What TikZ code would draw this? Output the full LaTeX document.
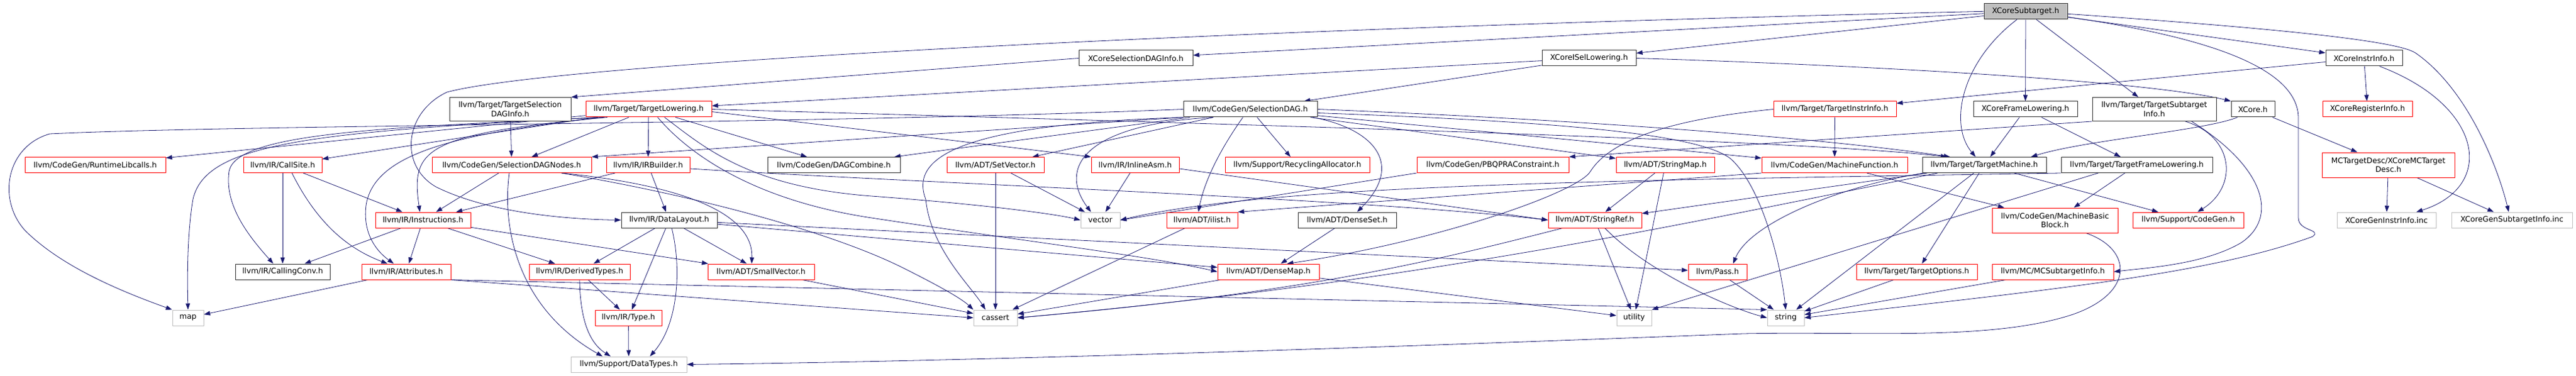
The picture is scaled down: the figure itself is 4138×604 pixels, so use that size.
\documentclass[tikz,border=0pt]{standalone}
\usepackage{fontspec}
\setmainfont{DejaVu Sans}
\usetikzlibrary{arrows.meta,backgrounds}
\definecolor{depblue}{HTML}{191970}
\definecolor{sysgray}{HTML}{BFBFBF}
\begin{document}
\begin{tikzpicture}[x=1pt,y=-1pt,>={Triangle[length=10pt,width=7pt]},
	box/.style={fill=white,minimum height=25pt,inner sep=0pt,align=center,font=\fontsize{12.2}{14.6}\selectfont},
	hdr/.style={box,draw=black!80,line width=1pt},
	trunc/.style={box,draw=red,line width=1pt},
	sys/.style={box,draw=sysgray,line width=1pt},
	dep/.style={->,depblue,line width=0.8pt}]
	\useasboundingbox (0,0) rectangle (4138,604);
	\node[hdr,fill=sysgray,minimum width=134pt] (sub) at (3254,18.3) {XCoreSubtarget.h};
	\node[hdr,minimum width=183pt] (xsdi) at (1824.5,93.5) {XCoreSelectionDAGInfo.h};
	\node[hdr,minimum width=151pt] (xisel) at (2552.5,93.5) {XCoreISelLowering.h};
	\node[hdr,minimum width=123pt] (xii) at (3797.5,93.5) {XCoreInstrInfo.h};
	\node[hdr,minimum width=195pt,minimum height=38pt] (tsdi) at (819.5,175.5) {llvm/Target/TargetSelection\\DAGInfo.h};
	\node[trunc,minimum width=202pt] (tl) at (1042,175.5) {llvm/Target/TargetLowering.h};
	\node[hdr,minimum width=215pt] (sdag) at (2008.5,175.5) {llvm/CodeGen/SelectionDAG.h};
	\node[trunc,minimum width=197pt] (tii) at (2947.5,175.5) {llvm/Target/TargetInstrInfo.h};
	\node[hdr,minimum width=167pt] (xfl) at (3253.5,175.5) {XCoreFrameLowering.h};
	\node[hdr,minimum width=199pt,minimum height=38pt] (tsi) at (3460.5,175.5) {llvm/Target/TargetSubtarget\\Info.h};
	\node[hdr,minimum width=70pt] (xcore) at (3619,175.5) {XCore.h};
	\node[trunc,minimum width=144pt] (xri) at (3803,175.5) {XCoreRegisterInfo.h};
	\node[trunc,minimum width=226pt] (rtl) at (153,265) {llvm/CodeGen/RuntimeLibcalls.h};
	\node[trunc,minimum width=126pt] (cs) at (454,265) {llvm/IR/CallSite.h};
	\node[trunc,minimum width=256pt] (sdn) at (822,265) {llvm/CodeGen/SelectionDAGNodes.h};
	\node[trunc,minimum width=134pt] (irb) at (1041,265) {llvm/IR/IRBuilder.h};
	\node[hdr,minimum width=213pt] (dagc) at (1339.5,265) {llvm/CodeGen/DAGCombine.h};
	\node[trunc,minimum width=156pt] (sv) at (1599,265) {llvm/ADT/SetVector.h};
	\node[trunc,minimum width=141pt] (ia) at (1823.5,265) {llvm/IR/InlineAsm.h};
	\node[trunc,minimum width=232pt] (ra) at (2084,265) {llvm/Support/RecyclingAllocator.h};
	\node[trunc,minimum width=244pt] (pbqp) at (2398,265) {llvm/CodeGen/PBQPRAConstraint.h};
	\node[trunc,minimum width=158pt] (smap) at (2675,265) {llvm/ADT/StringMap.h};
	\node[trunc,minimum width=234pt] (mf) at (2947,265) {llvm/CodeGen/MachineFunction.h};
	\node[hdr,minimum width=199pt] (tm) at (3187.5,265) {llvm/Target/TargetMachine.h};
	\node[hdr,minimum width=243pt] (tfl) at (3432.5,265) {llvm/Target/TargetFrameLowering.h};
	\node[trunc,minimum width=213pt,minimum height=40pt] (mctd) at (3836.5,265) {MCTargetDesc/XCoreMCTarget\\Desc.h};
	\node[trunc,minimum width=153pt] (inst) at (679.5,353.5) {llvm/IR/Instructions.h};
	\node[hdr,minimum width=154pt] (dl) at (1075,353.5) {llvm/IR/DataLayout.h};
	\node[sys,minimum width=63pt] (vec) at (1767.5,353.5) {vector};
	\node[trunc,minimum width=114pt] (ilist) at (1931,353.5) {llvm/ADT/ilist.h};
	\node[hdr,minimum width=158pt] (dset) at (2164,353.5) {llvm/ADT/DenseSet.h};
	\node[trunc,minimum width=150pt] (sref) at (2562,353.5) {llvm/ADT/StringRef.h};
	\node[trunc,minimum width=202pt,minimum height=40pt] (mbb) at (3301,354) {llvm/CodeGen/MachineBasic\\Block.h};
	\node[trunc,minimum width=178pt] (scg) at (3515,353.5) {llvm/Support/CodeGen.h};
	\node[sys,minimum width=159pt] (gii) at (3833.5,353.5) {XCoreGenInstrInfo.inc};
	\node[sys,minimum width=194pt] (gsi) at (4035,353.5) {XCoreGenSubtargetInfo.inc};
	\node[hdr,minimum width=152pt] (cc) at (454,436.5) {llvm/IR/CallingConv.h};
	\node[trunc,minimum width=143pt] (attr) at (652.5,436.5) {llvm/IR/Attributes.h};
	\node[trunc,minimum width=162pt] (dt) at (931,436.5) {llvm/IR/DerivedTypes.h};
	\node[trunc,minimum width=171pt] (svec) at (1222.5,436.5) {llvm/ADT/SmallVector.h};
	\node[trunc,minimum width=163pt] (dmap) at (2037.5,436.5) {llvm/ADT/DenseMap.h};
	\node[trunc,minimum width=94pt] (pass) at (2759,436.5) {llvm/Pass.h};
	\node[trunc,minimum width=194pt] (topt) at (3079,436.5) {llvm/Target/TargetOptions.h};
	\node[trunc,minimum width=195pt] (mcsi) at (3297.5,436.5) {llvm/MC/MCSubtargetInfo.h};
	\node[sys,minimum width=50pt] (map) at (302,510.5) {map};
	\node[trunc,minimum width=107pt] (ty) at (1009.5,510.5) {llvm/IR/Type.h};
	\node[sys,minimum width=70pt] (cassert) at (1599,510.5) {cassert};
	\node[sys,minimum width=56pt] (util) at (2625,510.5) {utility};
	\node[sys,minimum width=59pt] (str) at (2868.5,510.5) {string};
	\node[sys,minimum width=186pt] (dtypes) at (1010,585.5) {llvm/Support/DataTypes.h};
	\begin{scope}[on background layer]
	\foreach \src/\dst in {sub/xsdi,sub/xisel,sub/xii,sub/xfl,sub/tsi,xisel/tl,xisel/sdag,xii/tii,xii/xri,
		tsdi/sdn,tl/rtl,tl/cs,tl/sdn,tl/irb,tl/dagc,sdag/dagc,sdag/sv,sdag/ra,sdag/smap,sdag/mf,tii/mf,
		xfl/tm,xfl/tfl,xcore/mctd,mctd/gii,mctd/gsi,cs/cc,cs/inst,sdn/inst,irb/inst,irb/dl,tm/sref,tm/topt,
		tm/str,tm/scg,mf/mbb,tfl/mbb,sv/vec,sv/cassert,ia/vec,smap/sref,smap/util,inst/cc,inst/attr,inst/dt,
		inst/svec,dl/dt,dl/ty,dl/svec,dl/dmap,dl/pass,ilist/cassert,dset/dmap,sref/util,attr/map,dt/ty,
		svec/cassert,dmap/cassert,dmap/util,pass/str,topt/str,mcsi/str,ty/dtypes}
		\draw[dep] (\src) -- (\dst);
	\draw[dep] (xsdi.west) -- (tsdi.north east);
	\draw[dep] (tsi.south west) -- (pbqp.north east);
	\draw[dep] (sdag.south west) -- (sdn.north east);
	\draw[dep] (mf.south west) -- (ilist.north east);
	\draw[dep] ([yshift=-4]tl.east) -- (ia.north west);
	\draw[dep] ([yshift=-6]ia.east) -- (sref.west);
	\draw[dep] (attr.south east) -- (str.north west);
	\draw[dep] (attr.south east) -- (cassert.west);
	\draw[dep] ([xshift=60]tfl.south west) -- (util.north east);
	\draw[dep] (pbqp.south west) -- (vec.east);
	\draw[dep] (sub.west) .. controls (2000,45) and (900,100) .. (718,148) .. controls (650,180) and (640,265) .. (700,300) .. controls (780,340) and (900,352) .. (dl.west);
	\draw[dep] ([xshift=-14]sub.south) .. controls (3150,100) and (3130,200) .. ([xshift=-14]tm.north);
	\draw[dep] ([yshift=-4]sub.east) .. controls (3650,45) and (3850,65) .. (3880,85) .. controls (3960,140) and (4010,260) .. ([xshift=-5]gsi.north);
	\draw[dep] ([yshift=-9]sub.east) .. controls (3550,60) and (3692,110) .. (3692,190) -- (3692,350) .. controls (3692,372) and (3730,368) .. (3715,380) .. controls (3550,440) and (3300,465) .. (str.east);
	\draw[dep] (xisel.east) .. controls (3000,105) and (3450,130) .. (xcore.north west);
	\draw[dep] ([xshift=25]xii.south) .. controls (3990,170) and (4010,300) .. ([xshift=48]gii.north);
	\draw[dep] ([xshift=-25]xcore.south) .. controls (3540,210) and (3350,225) .. ([xshift=75]tm.north);
	\draw[dep] ([xshift=50]tsi.south) .. controls (3590,220) and (3595,300) .. ([xshift=15]scg.north);
	\draw[dep] ([xshift=60]tsi.south) .. controls (3640,270) and (3660,350) .. (3600,390) .. controls (3540,425) and (3450,430) .. (mcsi.east);
	\draw[dep] ([xshift=35]tl.south west) .. controls (680,215) and (660,240) .. ([xshift=-5]inst.north);
	\draw[dep] ([xshift=30]tl.south west) .. controls (600,205) and (380,215) .. (368,275) .. controls (360,330) and (400,380) .. ([xshift=-15]cc.north);
	\draw[dep] ([xshift=30]tl.south west) .. controls (720,215) and (600,250) .. (588,330) .. controls (583,370) and (600,400) .. ([xshift=-20]attr.north);
	\draw[dep] ([xshift=20]tl.south west) .. controls (500,212) and (330,230) .. (310,320) .. controls (303,360) and (300,420) .. (map.north);
	\draw[dep] ([xshift=116]tl.south west) .. controls (1100,240) and (1200,320) .. (1400,350) .. controls (1650,388) and (1850,412) .. (dmap.west);
	\draw[dep] ([xshift=127]tl.south west) .. controls (1130,235) and (1200,300) .. (1400,315) .. controls (1600,330) and (1700,345) .. (vec.west);
	\draw[dep] (tl.east) .. controls (2000,200) and (2900,225) .. ([xshift=-60]tm.north);
	\draw[dep] (sdag.west) .. controls (1300,200) and (400,200) .. (80,215) .. controls (10,235) and (-5,320) .. (40,370) .. controls (100,430) and (200,470) .. (map.north west);
	\draw[dep] (sdag.south west) .. controls (1550,200) and (1460,250) .. (1487,320) .. controls (1495,400) and (1560,460) .. ([xshift=-16]cassert.north);
	\draw[dep] ([xshift=-60]sdag.south) .. controls (1740,200) and (1700,270) .. ([xshift=-15]vec.north);
	\draw[dep] ([xshift=-12]sdag.south) .. controls (1960,240) and (1935,290) .. ([xshift=-6]ilist.north);
	\draw[dep] ([xshift=-8]sdag.south east) .. controls (2200,205) and (2260,260) .. ([xshift=16]dset.north);
	\draw[dep] ([yshift=-6]sdag.east) .. controls (2500,195) and (2730,215) .. (2780,255) .. controls (2830,300) and (2860,420) .. (str.north);
	\draw[dep] (sdag.east) .. controls (2600,195) and (2950,225) .. ([xshift=-55]tm.north);
	\draw[dep] ([xshift=-4]sdn.south) .. controls (805,380) and (840,500) .. ([xshift=-42]dtypes.north);
	\draw[dep] ([xshift=80]sdn.south) .. controls (1120,300) and (1210,350) .. ([xshift=-15]svec.north);
	\draw[dep] ([xshift=80]sdn.south) .. controls (1150,320) and (1350,380) .. (1450,430) .. controls (1510,460) and (1545,480) .. (cassert.north west);
	\draw[dep] ([xshift=15]cs.south) .. controls (510,360) and (560,400) .. ([xshift=-30]attr.north);
	\draw[dep] ([yshift=-6]irb.east) .. controls (1500,295) and (2200,320) .. (sref.west);
	\draw[dep] ([xshift=4]dl.south) .. controls (1095,430) and (1090,520) .. ([xshift=34]dtypes.north);
	\draw[dep] (dt.south) .. controls (932,510) and (945,550) .. ([xshift=-29]dtypes.north);
	\draw[dep] (tii.west) .. controls (2700,190) and (2590,220) .. (2555,275) .. controls (2535,310) and (2300,390) .. ([xshift=30]dmap.north);
	\draw[dep] ([xshift=-97]tm.south) .. controls (2950,300) and (2810,360) .. ([xshift=25]pass.north);
	\draw[dep] ([xshift=-75]tm.south) .. controls (2700,360) and (2300,450) .. (cassert.east);
	\draw[dep] (tfl.south west) .. controls (2600,290) and (2050,295) .. (vec.east);
	\draw[dep] ([xshift=16]sref.south) .. controls (2650,440) and (2780,495) .. (str.west);
	\draw[dep] ([xshift=-52]sref.south) .. controls (2300,420) and (2100,470) .. (cassert.east);
	\draw[dep] ([xshift=50]mbb.south) .. controls (3425,400) and (3430,470) .. (3330,505) .. controls (3200,548) and (3000,532) .. (2800,536) .. controls (2300,555) and (1600,580) .. (dtypes.east);
	\end{scope}
\end{tikzpicture}
\end{document}
